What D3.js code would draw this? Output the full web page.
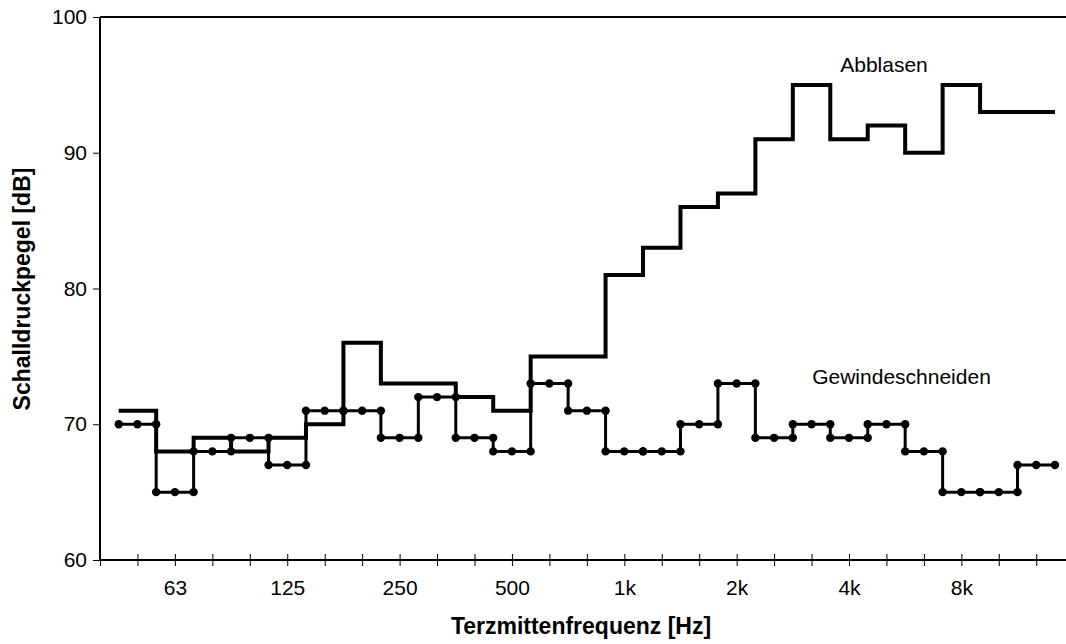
<!DOCTYPE html>
<html>
<head>
<meta charset="utf-8">
<script src="https://cdn.jsdelivr.net/npm/d3@7"></script>
<style>
  html, body { margin: 0; padding: 0; background: #fff; }
  svg { display: block; font-family: "Liberation Sans", Arial, sans-serif; }
</style>
</head>
<body>
<svg id="chart" width="1066" height="644"></svg>
<script>
// Third-octave band centre frequencies shown on the axis (index 0 = 40 Hz)
const bands = ["40","50","63","80","100","125","160","200","250","315","400","500","630","800",
               "1k","1.25k","1.6k","2k","2.5k","3.15k","4k","5k","6.3k","8k","10k","12.5k"];
const tickLabels = ["63","125","250","500","1k","2k","4k","8k"];
// Measured bands (50 Hz ... 12.5 kHz)
const dataBands = ["50","63","80","100","125","160","200","250","315","400","500","630","800",
                   "1k","1.25k","1.6k","2k","2.5k","3.15k","4k","5k","6.3k","8k","10k","12.5k"];
const abblasen = [71,68,69,68,69,70,76,73,73,72,71,75,75,81,83,86,87,91,95,91,92,90,95,93,93];
const gewinde  = [70,65,68,69,67,71,71,69,72,69,68,73,71,68,68,70,73,69,70,69,70,68,65,65,67];
const yTicks = [60,70,80,90,100];

const M = { left: 100, top: 17, bottom: 560, right: 1066 };
const svg = d3.select("#chart");

const x = d3.scaleLinear().domain([0, 25]).range([M.left, 1036.25]);
const y = d3.scaleLinear().domain([60, 100]).range([M.bottom, M.top]);
const idx = b => bands.indexOf(b);
const FONT = "'Liberation Sans', Arial, sans-serif";

// frame: top line
svg.append("line").attr("x1", M.left).attr("x2", M.right).attr("y1", M.top).attr("y2", M.top)
  .attr("stroke", "#000").attr("stroke-width", 2);

// Y axis
const yAxis = svg.append("g").attr("transform", `translate(${M.left},0)`)
  .call(d3.axisLeft(y).tickValues(yTicks).tickSize(7).tickPadding(6).tickFormat(d3.format("d")));
yAxis.select(".domain").remove();
yAxis.append("line").attr("x1", 0).attr("x2", 0).attr("y1", M.top).attr("y2", M.bottom)
  .attr("stroke", "#000").attr("stroke-width", 2);
yAxis.selectAll(".tick line").attr("stroke", "#000").attr("stroke-width", 1);
yAxis.selectAll("text").attr("font-size", 21).attr("fill", "#000").attr("font-family", FONT);

// X axis
const xAxis = svg.append("g").attr("transform", `translate(0,${M.bottom})`)
  .call(d3.axisBottom(x).tickValues(d3.range(bands.length)).tickSize(6)
    .tickFormat(i => tickLabels.includes(bands[i]) ? bands[i] : ""));
xAxis.select(".domain").remove();
xAxis.append("line").attr("x1", M.left).attr("x2", M.right).attr("y1", 0).attr("y2", 0)
  .attr("stroke", "#000").attr("stroke-width", 2);
xAxis.selectAll(".tick line").attr("y1", -6).attr("y2", 6).attr("stroke", "#000").attr("stroke-width", 1);
xAxis.selectAll("text").attr("font-size", 21).attr("fill", "#000").attr("y", 34.5).attr("dy", 0)
  .attr("font-family", FONT);

// axis titles
svg.append("text").attr("x", 581).attr("y", 634).attr("text-anchor", "middle")
  .attr("font-size", 23).attr("font-weight", "bold").text("Terzmittenfrequenz [Hz]");
svg.append("text").attr("transform", "translate(29.5,289) rotate(-90)").attr("text-anchor", "middle")
  .attr("font-size", 23).attr("font-weight", "bold").text("Schalldruckpegel [dB]");

// step points
function stepPoints(vals) {
  const pts = [];
  vals.forEach((v, i) => {
    const k = idx(dataBands[i]);
    pts.push([k - 0.5, v], [k + 0.5, v]);
  });
  return pts;
}
const line = d3.line().x(d => x(d[0])).y(d => y(d[1]));

svg.append("path").datum(stepPoints(gewinde)).attr("d", line)
  .attr("fill", "none").attr("stroke", "#000").attr("stroke-width", 3)
  .attr("stroke-linejoin", "miter");
svg.append("path").datum(stepPoints(abblasen)).attr("d", line)
  .attr("fill", "none").attr("stroke", "#000").attr("stroke-width", 4)
  .attr("stroke-linejoin", "miter");

// markers for Gewindeschneiden: band start, centre, end
const dots = [];
gewinde.forEach((v, i) => {
  const k = idx(dataBands[i]);
  dots.push([k - 0.5, v], [k, v], [k + 0.5, v]);
});
svg.append("g").selectAll("circle").data(dots).join("circle")
  .attr("cx", d => x(d[0])).attr("cy", d => y(d[1])).attr("r", 4.2).attr("fill", "#000");

// series labels
svg.append("text").attr("x", 884).attr("y", 71.5).attr("text-anchor", "middle")
  .attr("font-size", 21).text("Abblasen");
svg.append("text").attr("x", 901.5).attr("y", 383.5).attr("text-anchor", "middle")
  .attr("font-size", 21).text("Gewindeschneiden");
</script>
</body>
</html>
